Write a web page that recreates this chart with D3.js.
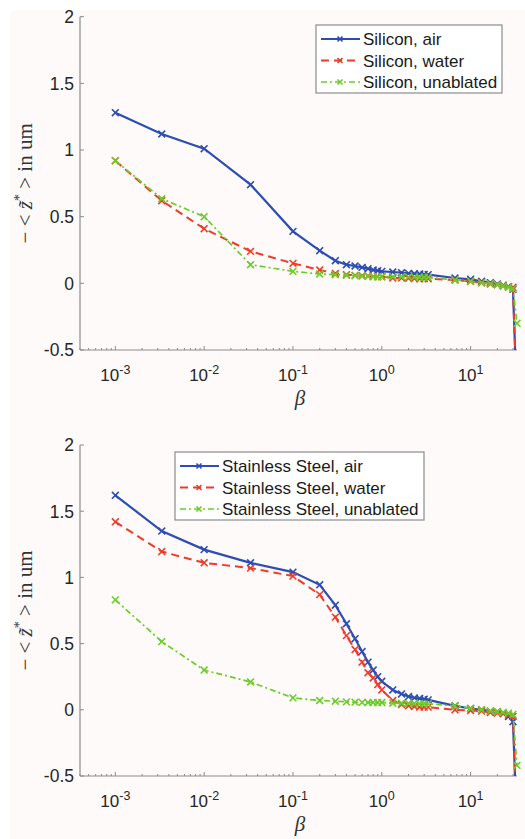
<!DOCTYPE html>
<html>
<head>
<meta charset="utf-8">
<script src="https://cdn.jsdelivr.net/npm/d3@7"></script>
<style>
  body { margin: 0; background: #fff; }
</style>
</head>
<body>
<div id="chart"></div>
<script>
// beta values shared by every series
const betaVals = [0.001, 0.00333, 0.01, 0.0333, 0.1, 0.2, 0.3, 0.4, 0.5, 0.6, 0.7, 0.8, 0.9, 1.0,
    1.33, 1.67, 2, 2.33, 2.67, 3, 3.33, 6.67, 10, 13.3, 16.7, 20, 23.3, 26.7, 30, 33.3];

// top panel: silicon
const siAir = [1.28, 1.12, 1.01, 0.74, 0.39, 0.245, 0.17, 0.14, 0.13, 0.12, 0.11, 0.10, 0.095, 0.09,
    0.085, 0.08, 0.075, 0.072, 0.07, 0.067, 0.065, 0.04, 0.03, 0.015, 0.005, -0.005, -0.015, -0.025, -0.045, -0.9];
const siWater = [0.92, 0.62, 0.41, 0.24, 0.15, 0.10, 0.075, 0.065, 0.06, 0.058, 0.055, 0.052, 0.05, 0.05,
    0.04, 0.04, 0.038, 0.036, 0.035, 0.035, 0.035, 0.025, 0.015, 0.005, -0.005, -0.01, -0.02, -0.025, -0.03, -0.9];
const siUnablated = [0.92, 0.635, 0.50, 0.14, 0.09, 0.07, 0.065, 0.06, 0.058, 0.055, 0.053, 0.05, 0.05, 0.05,
    0.05, 0.05, 0.048, 0.047, 0.046, 0.045, 0.045, 0.025, 0.015, 0.005, -0.002, -0.01, -0.02, -0.03, -0.04, -0.3];

// bottom panel: stainless steel
const ssAir = [1.62, 1.35, 1.21, 1.11, 1.04, 0.944, 0.79, 0.65, 0.537, 0.44, 0.36, 0.30, 0.25, 0.215,
    0.15, 0.12, 0.10, 0.09, 0.085, 0.08, 0.075, 0.03, 0.01, 0.0, -0.01, -0.015, -0.025, -0.05, -0.09, -0.9];
const ssWater = [1.42, 1.195, 1.11, 1.07, 1.01, 0.87, 0.70, 0.56, 0.455, 0.36, 0.28, 0.24, 0.19, 0.15,
    0.07, 0.04, 0.03, 0.025, 0.02, 0.02, 0.02, 0.0, -0.005, -0.01, -0.02, -0.025, -0.03, -0.04, -0.05, -0.9];
const ssUnablated = [0.83, 0.515, 0.30, 0.21, 0.09, 0.07, 0.065, 0.06, 0.058, 0.056, 0.055, 0.055, 0.055, 0.055,
    0.05, 0.05, 0.048, 0.047, 0.046, 0.045, 0.045, 0.03, 0.01, 0.0, -0.01, -0.015, -0.02, -0.025, -0.035, -0.42];

const siNames = ["Silicon, air", "Silicon, water", "Silicon, unablated"];
const ssNames = ["Stainless Steel, air", "Stainless Steel, water", "Stainless Steel, unablated"];

const yTicks = [-0.5, 0, 0.5, 1, 1.5, 2];
const xMajor = [-3, -2, -1, 0, 1];

const W = 525, H = 839;
const styles = [
    { color: "#2c4db4", dash: null, width: 2.2 },
    { color: "#ef3b2a", dash: "8,5", width: 2 },
    { color: "#6ccc2a", dash: "6,3,2,3", width: 1.7 }
];
const sans = "Liberation Sans, Arial, Helvetica, sans-serif";
const serif = "Liberation Serif, Times New Roman, serif";

const svg = d3.select("#chart").append("svg")
    .attr("width", W)
    .attr("height", H);

svg.append("rect")
    .attr("x", 10).attr("y", 10)
    .attr("width", W - 10).attr("height", H - 10)
    .attr("fill", "#fdfaf9");

const x = d3.scaleLog()
    .domain([4e-4, 33.3])
    .range([80, 517]);

function drawPanel(top, bottom, names, series, legendPos, id) {
    const y = d3.scaleLinear().domain([-0.5, 2]).range([bottom, top]);
    const g = svg.append("g");

    // clip region (a little slack on the right so the last markers show)
    g.append("clipPath").attr("id", "clip" + id)
        .append("rect")
        .attr("x", 80).attr("y", top - 5)
        .attr("width", 445).attr("height", bottom - top + 5);

    // axes lines
    const axisColor = "#8c8c8c";
    g.append("line").attr("x1", 80).attr("x2", 80).attr("y1", top).attr("y2", bottom)
        .attr("stroke", axisColor).attr("stroke-width", 1.2);
    g.append("line").attr("x1", 80).attr("x2", 517).attr("y1", bottom).attr("y2", bottom)
        .attr("stroke", axisColor).attr("stroke-width", 1.2);

    // y ticks + labels
    yTicks.forEach(t => {
        g.append("line").attr("x1", 80).attr("x2", 84)
            .attr("y1", y(t)).attr("y2", y(t))
            .attr("stroke", axisColor);
        g.append("text")
            .attr("x", 74).attr("y", y(t))
            .attr("dy", "0.36em")
            .attr("text-anchor", "end")
            .style("font-family", sans)
            .style("font-size", "17.5px")
            .style("fill", "#262626")
            .text(t);
    });

    // x ticks (major + minor)
    const [lo, hi] = x.domain();
    for (let e = -4; e <= 1; e++) {
        for (let m = 1; m <= 9; m++) {
            const v = m * Math.pow(10, e);
            if (v < lo || v > hi) continue;
            const len = m === 1 ? 4 : 2;
            g.append("line").attr("x1", x(v)).attr("x2", x(v))
                .attr("y1", bottom).attr("y2", bottom - len)
                .attr("stroke", axisColor);
        }
    }
    xMajor.forEach(e => {
        const t = g.append("text")
            .attr("x", x(Math.pow(10, e)))
            .attr("y", bottom + 31)
            .attr("text-anchor", "middle")
            .style("font-family", sans)
            .style("font-size", "17px")
            .style("fill", "#262626");
        t.append("tspan").text("10");
        t.append("tspan").attr("dy", "-7").style("font-size", "12.5px").text(e < 0 ? "-" + (-e) : e);
    });

    // axis labels
    g.append("text")
        .attr("x", 300).attr("y", bottom + 55)
        .attr("text-anchor", "middle")
        .style("font-family", serif)
        .style("font-style", "italic")
        .style("font-size", "21px")
        .style("fill", "#333")
        .text("β");

    const yl = g.append("text")
        .attr("transform", `translate(32,${(top + bottom) / 2}) rotate(-90)`)
        .attr("text-anchor", "middle")
        .style("font-family", serif)
        .style("font-size", "21px")
        .style("fill", "#333");
    yl.append("tspan").text("− < ");
    yl.append("tspan").style("font-style", "italic").text("z\u0303");
    yl.append("tspan").attr("dy", "-8").style("font-size", "14px").text("*");
    yl.append("tspan").attr("dy", "8").text(" > in um");

    // series
    const line = d3.line()
        .x((d, i) => x(betaVals[i]))
        .y(d => y(d));

    const plot = g.append("g").attr("clip-path", `url(#clip${id})`);
    series.forEach((vals, k) => {
        const s = styles[k];
        plot.append("path")
            .datum(vals)
            .attr("fill", "none")
            .attr("stroke", s.color)
            .attr("stroke-width", s.width)
            .attr("stroke-dasharray", s.dash)
            .attr("d", line);
        plot.selectAll(null)
            .data(vals)
            .enter()
            .append("path")
            .attr("d", (d, i) => {
                const cx = x(betaVals[i]), cy = y(d), r = 3.4;
                return `M${cx - r},${cy - r}L${cx + r},${cy + r}M${cx - r},${cy + r}L${cx + r},${cy - r}`;
            })
            .attr("stroke", s.color)
            .attr("stroke-width", 1.6);
    });

    // legend
    const lg = g.append("g").attr("transform", `translate(${legendPos.x},${legendPos.y})`);
    lg.append("rect")
        .attr("width", legendPos.w).attr("height", 68)
        .attr("fill", "#fff")
        .attr("stroke", "#8c8c8c")
        .attr("stroke-width", 1.2);
    names.forEach((name, k) => {
        const s = styles[k];
        const cy = 14 + k * 21.5;
        lg.append("line")
            .attr("x1", 5).attr("x2", 44)
            .attr("y1", cy).attr("y2", cy)
            .attr("stroke", s.color)
            .attr("stroke-width", s.width)
            .attr("stroke-dasharray", s.dash);
        lg.append("path")
            .attr("d", `M21.5,${cy - 2.5}L26.5,${cy + 2.5}M21.5,${cy + 2.5}L26.5,${cy - 2.5}`)
            .attr("stroke", s.color)
            .attr("stroke-width", 1.6);
        lg.append("text")
            .attr("x", 47).attr("y", cy)
            .attr("dy", "0.36em")
            .style("font-family", sans)
            .style("font-size", "17px")
            .style("fill", "#1a1a1a")
            .text(name);
    });
}

drawPanel(16.7, 350, siNames, [siAir, siWater, siUnablated], { x: 316, y: 25, w: 186 }, 1);
drawPanel(445, 776, ssNames, [ssAir, ssWater, ssUnablated], { x: 175, y: 452, w: 249 }, 2);
</script>
</body>
</html>
